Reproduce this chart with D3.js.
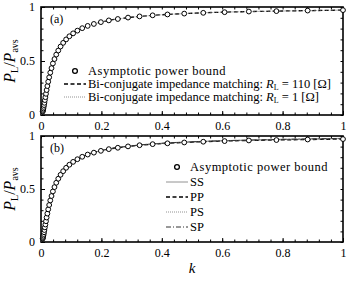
<!DOCTYPE html>
<html>
<head>
<meta charset="utf-8">
<script src="https://cdn.jsdelivr.net/npm/d3@7"></script>
<style>
  body { margin: 0; background: #fff; }
  svg { font-family: "Liberation Serif", "DejaVu Serif", serif; }
  .axis path { display: none; }
  .axis line { stroke: #000; stroke-width: 1; }
  .axis text { font-family: "Liberation Serif", serif; font-size: 12px; fill: #000; }
</style>
</head>
<body>
<div id="chart"></div>
<script>
// marker positions (k) of the asymptotic power bound
var kMarks = [0.0054, 0.0061, 0.0069, 0.0078, 0.0088, 0.0100, 0.0113, 0.0128, 0.0145, 0.0165,
    0.0186, 0.0211, 0.0239, 0.0271, 0.0307, 0.0348, 0.0394, 0.0446, 0.0505, 0.0572,
    0.0648, 0.0734, 0.0832, 0.0940, 0.1064, 0.1205, 0.1365, 0.1546, 0.1751, 0.1983,
    0.2246, 0.2544, 0.2882, 0.3264, 0.3697, 0.4188, 0.4743, 0.5373, 0.6080, 0.6883,
    0.7795, 0.8830, 1.0];
var boundVals = [0.031, 0.038, 0.048, 0.060, 0.075, 0.092, 0.113, 0.138, 0.165, 0.196,
    0.231, 0.268, 0.308, 0.349, 0.392, 0.434, 0.477, 0.518, 0.559, 0.597,
    0.634, 0.668, 0.700, 0.729, 0.756, 0.781, 0.804, 0.825, 0.843, 0.860,
    0.876, 0.889, 0.902, 0.913, 0.923, 0.931, 0.939, 0.946, 0.952, 0.958,
    0.962, 0.967, 0.971];

// k grid of the continuous curves
var kLine = [0, 0.005, 0.01, 0.015, 0.02, 0.03, 0.04, 0.05, 0.07, 0.1, 0.15, 0.2,
    0.3, 0.4, 0.5, 0.6, 0.7, 0.8, 0.9, 1.0];
// panel (a)
var match110 = [0, 0.027, 0.092, 0.173, 0.252, 0.384, 0.482, 0.555, 0.655, 0.741, 0.820, 0.861,
    0.905, 0.928, 0.942, 0.952, 0.958, 0.963, 0.967, 0.971];
var match1 = [0, 0.027, 0.092, 0.173, 0.252, 0.384, 0.482, 0.555, 0.655, 0.741, 0.820, 0.861,
    0.905, 0.928, 0.942, 0.952, 0.958, 0.963, 0.967, 0.971];
// panel (b)
var ssVals = [0, 0.027, 0.092, 0.173, 0.252, 0.384, 0.482, 0.556, 0.656, 0.742, 0.822, 0.863,
    0.908, 0.932, 0.946, 0.956, 0.963, 0.969, 0.974, 0.978];
var ppVals = [0, 0.027, 0.092, 0.173, 0.252, 0.384, 0.482, 0.555, 0.655, 0.741, 0.820, 0.861,
    0.905, 0.928, 0.942, 0.952, 0.958, 0.963, 0.967, 0.971];
var psVals = [0, 0.027, 0.092, 0.173, 0.252, 0.384, 0.482, 0.555, 0.655, 0.741, 0.820, 0.861,
    0.906, 0.929, 0.943, 0.953, 0.960, 0.965, 0.969, 0.973];
var spVals = [0, 0.027, 0.092, 0.173, 0.252, 0.384, 0.482, 0.556, 0.656, 0.742, 0.822, 0.863,
    0.907, 0.931, 0.945, 0.955, 0.962, 0.968, 0.973, 0.977];

var xTicks = [0, 0.2, 0.4, 0.6, 0.8, 1];
var yTicks = [0, 0.5, 1];

var width = 353, height = 283;
var svg = d3.select("#chart").append("svg")
    .attr("width", width)
    .attr("height", height);

var x = d3.scaleLinear().domain([0, 1]).range([41, 343]);
var minorX = d3.range(0, 1.0001, 0.04);
var minorY = d3.range(0, 1.0001, 0.1);

function drawPanel(top, bottom, label, series, legend) {
    var y = d3.scaleLinear().domain([0, 1]).range([bottom, top]);
    var g = svg.append("g");

    // minor ticks
    g.append("g").attr("class", "axis").attr("transform", "translate(0," + bottom + ")")
        .call(d3.axisBottom(x).tickValues(minorX).tickSize(-2.5).tickFormat(""));
    g.append("g").attr("class", "axis").attr("transform", "translate(0," + top + ")")
        .call(d3.axisTop(x).tickValues(minorX).tickSize(-2.5).tickFormat(""));
    g.append("g").attr("class", "axis").attr("transform", "translate(41,0)")
        .call(d3.axisLeft(y).tickValues(minorY).tickSize(-2.5).tickFormat(""));
    g.append("g").attr("class", "axis").attr("transform", "translate(343,0)")
        .call(d3.axisRight(y).tickValues(minorY).tickSize(-2.5).tickFormat(""));

    // major ticks with labels
    g.append("g").attr("class", "axis").attr("transform", "translate(0," + bottom + ")")
        .call(d3.axisBottom(x).tickValues(xTicks).tickSize(-4).tickPadding(6).tickFormat(d3.format("~g")));
    g.append("g").attr("class", "axis").attr("transform", "translate(41,0)")
        .call(d3.axisLeft(y).tickValues(yTicks).tickSize(-4).tickPadding(6).tickFormat(d3.format("~g")));

    // frame
    g.append("rect")
        .attr("x", 41).attr("y", top)
        .attr("width", 302).attr("height", bottom - top)
        .attr("fill", "none").attr("stroke", "#000").attr("stroke-width", 1.6);

    // curves
    var line = d3.line()
        .x(function(d) { return x(d[0]); })
        .y(function(d) { return y(d[1]); })
        .curve(d3.curveMonotoneX);

    series.forEach(function(s) {
        g.append("path")
            .datum(kLine.map(function(k, i) { return [k, s.values[i]]; }))
            .attr("d", line)
            .attr("fill", "none")
            .attr("stroke", s.color)
            .attr("stroke-width", s.width)
            .attr("stroke-dasharray", s.dash);
    });

    // markers
    g.selectAll("circle.mark")
        .data(kMarks.map(function(k, i) { return [k, boundVals[i]]; }))
        .enter().append("circle")
        .attr("class", "mark")
        .attr("cx", function(d) { return x(d[0]); })
        .attr("cy", function(d) { return y(d[1]); })
        .attr("r", 2.4)
        .attr("fill", "#fff")
        .attr("stroke", "#000")
        .attr("stroke-width", 1);

    // panel label
    g.append("text")
        .attr("x", 50).attr("y", top + 16)
        .style("font-size", "12px")
        .text(label);

    // y label
    var yl = g.append("text")
        .attr("transform", "translate(15," + ((top + bottom) / 2) + ") rotate(-90)")
        .attr("text-anchor", "middle")
        .style("font-size", "16px");
    yl.append("tspan").style("font-style", "italic").text("P");
    yl.append("tspan").attr("dy", 3).style("font-size", "10px").text("L");
    yl.append("tspan").attr("dy", -3).text("/");
    yl.append("tspan").style("font-style", "italic").text("P");
    yl.append("tspan").attr("dy", 3).style("font-size", "10px").text("avs");

    // legend
    var lg = g.append("g");
    lg.append("circle")
        .attr("cx", legend.x + 11).attr("cy", legend.y)
        .attr("r", 2.4).attr("fill", "#fff").attr("stroke", "#000").attr("stroke-width", 1.3);
    lg.append("text")
        .attr("x", legend.x + 24).attr("y", legend.y + 4)
        .style("font-size", "12.5px")
        .style("letter-spacing", "0.5px")
        .text("Asymptotic power bound");

    series.forEach(function(s, i) {
        var ly = legend.y + legend.step * (i + 1);
        lg.append("line")
            .attr("x1", legend.x).attr("x2", legend.x + 22)
            .attr("y1", ly).attr("y2", ly)
            .attr("stroke", s.color)
            .attr("stroke-width", s.width)
            .attr("stroke-dasharray", s.dash);
        var t = lg.append("text")
            .attr("x", legend.x + 24).attr("y", ly + 4)
            .style("font-size", "12.5px");
        t.append("tspan").text(s.name);
        if (s.rl) {
            t.append("tspan").style("font-style", "italic").text("R");
            t.append("tspan").attr("dy", 2).style("font-size", "8px").text("L");
            t.append("tspan").attr("dy", -2).text(" = " + s.rl + " [\u03A9]");
        }
    });
}

drawPanel(7, 115, "(a)", [
    { name: "Bi-conjugate impedance matching: ", rl: "110", values: match110, color: "#000", width: 1.3, dash: "4,2.5" },
    { name: "Bi-conjugate impedance matching: ", rl: "1", values: match1, color: "#777", width: 0.8, dash: "1,1" }
], { x: 64, y: 71, step: 13 });

drawPanel(136, 242, "(b)", [
    { name: "SS", values: ssVals, color: "#777", width: 0.8, dash: null },
    { name: "PP", values: ppVals, color: "#000", width: 1.3, dash: "4,2.5" },
    { name: "PS", values: psVals, color: "#777", width: 0.8, dash: "1,1" },
    { name: "SP", values: spVals, color: "#333", width: 1, dash: "5,2,1,2" }
], { x: 166, y: 167, step: 15 });

// x label
svg.append("text")
    .attr("x", 192).attr("y", 273)
    .attr("text-anchor", "middle")
    .style("font-size", "15px")
    .style("font-style", "italic")
    .text("k");
</script>
</body>
</html>
